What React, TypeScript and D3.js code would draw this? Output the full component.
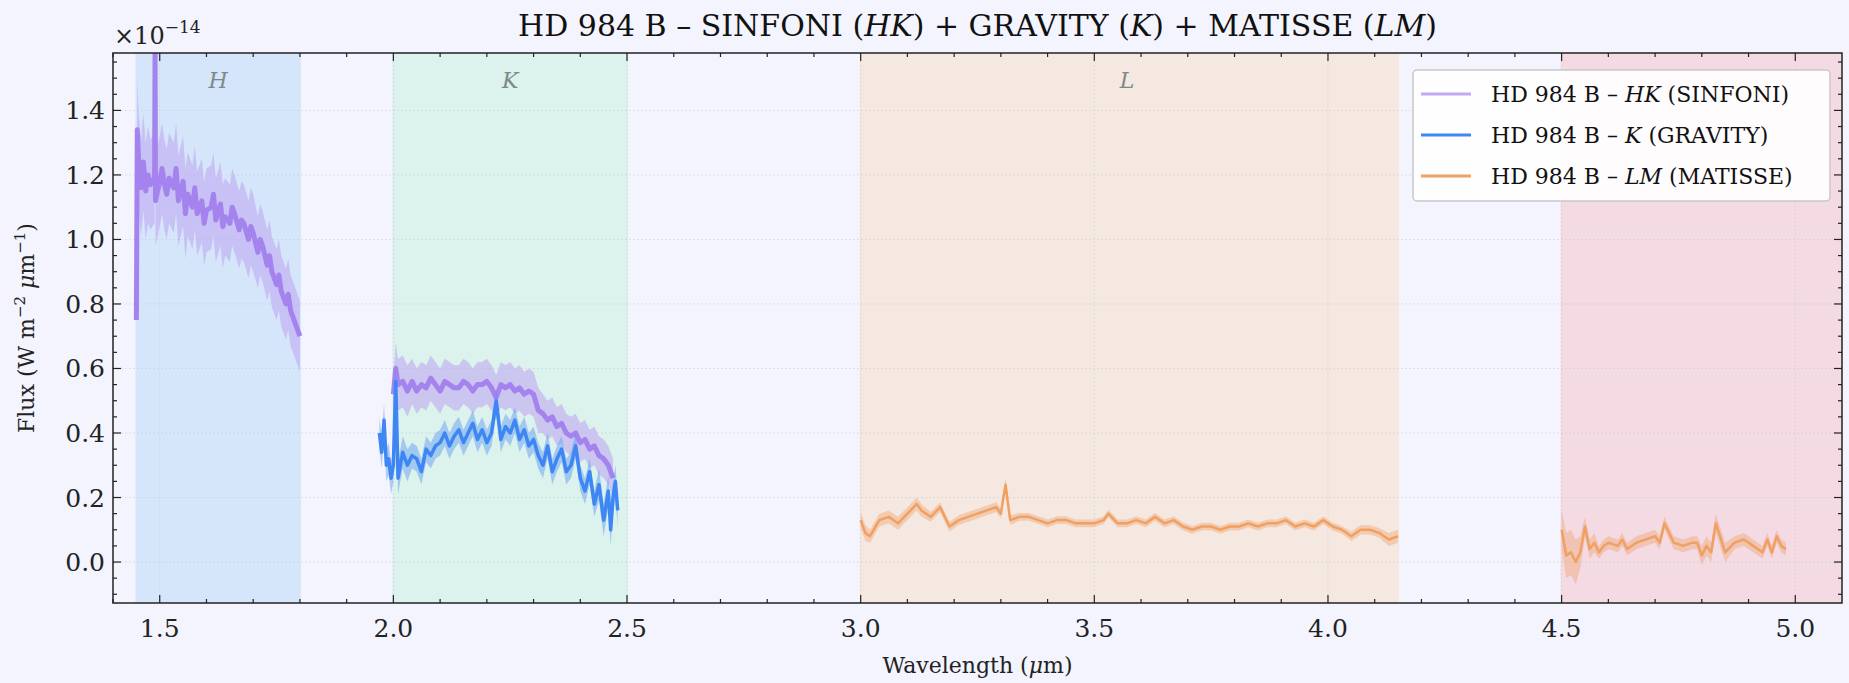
import { useEffect, useRef } from "react";
import * as d3 from "d3";

// SINFONI HK (H part + K part), flux in 1e-14 W m^-2 um^-1
const sinfoniWaveH = [1.45, 1.452, 1.455, 1.46, 1.465, 1.47, 1.475, 1.48, 1.489, 1.49, 1.491, 1.50, 1.505, 1.51, 1.515, 1.52, 1.53, 1.535, 1.54, 1.55, 1.555, 1.56, 1.57, 1.575, 1.58, 1.59, 1.595, 1.60, 1.61, 1.615, 1.62, 1.63, 1.635, 1.64, 1.65, 1.655, 1.66, 1.67, 1.675, 1.68, 1.69, 1.695, 1.70, 1.71, 1.715, 1.72, 1.73, 1.735, 1.74, 1.75, 1.755, 1.76, 1.77, 1.775, 1.78, 1.79, 1.80];
const sinfoniFluxH = [0.75, 1.34, 1.24, 1.16, 1.24, 1.15, 1.20, 1.17, 1.19, 1.58, 1.12, 1.18, 1.22, 1.17, 1.14, 1.19, 1.16, 1.22, 1.12, 1.18, 1.08, 1.14, 1.10, 1.16, 1.08, 1.12, 1.05, 1.09, 1.10, 1.14, 1.06, 1.11, 1.04, 1.07, 1.05, 1.10, 1.08, 1.03, 1.06, 1.05, 1.00, 1.04, 1.02, 0.96, 1.00, 0.98, 0.92, 0.95, 0.90, 0.86, 0.89, 0.84, 0.80, 0.83, 0.78, 0.74, 0.70];
const sinfoniErrH = [0.02, 0.16, 0.15, 0.15, 0.15, 0.15, 0.15, 0.14, 0.14, 0.02, 0.14, 0.14, 0.14, 0.14, 0.14, 0.14, 0.14, 0.14, 0.14, 0.14, 0.14, 0.13, 0.13, 0.13, 0.13, 0.13, 0.13, 0.13, 0.13, 0.13, 0.13, 0.13, 0.13, 0.12, 0.12, 0.12, 0.12, 0.12, 0.12, 0.12, 0.12, 0.12, 0.12, 0.11, 0.11, 0.11, 0.11, 0.11, 0.11, 0.11, 0.11, 0.11, 0.11, 0.11, 0.11, 0.11, 0.11];
const sinfoniWaveK = [2.00, 2.005, 2.01, 2.02, 2.03, 2.04, 2.05, 2.06, 2.07, 2.08, 2.09, 2.10, 2.11, 2.12, 2.13, 2.14, 2.15, 2.16, 2.17, 2.18, 2.19, 2.20, 2.21, 2.22, 2.23, 2.24, 2.25, 2.26, 2.27, 2.28, 2.29, 2.30, 2.31, 2.32, 2.33, 2.34, 2.35, 2.36, 2.37, 2.38, 2.39, 2.40, 2.41, 2.42, 2.43, 2.44, 2.45, 2.46, 2.47];
const sinfoniFluxK = [0.52, 0.60, 0.55, 0.56, 0.53, 0.56, 0.53, 0.55, 0.54, 0.57, 0.55, 0.53, 0.56, 0.55, 0.54, 0.54, 0.56, 0.55, 0.53, 0.55, 0.55, 0.56, 0.54, 0.51, 0.55, 0.54, 0.55, 0.53, 0.54, 0.52, 0.53, 0.52, 0.47, 0.46, 0.44, 0.45, 0.42, 0.43, 0.40, 0.39, 0.40, 0.37, 0.38, 0.35, 0.36, 0.33, 0.32, 0.30, 0.26];
const sinfoniErrK = [0.06, 0.08, 0.08, 0.08, 0.08, 0.07, 0.07, 0.07, 0.07, 0.07, 0.07, 0.07, 0.07, 0.07, 0.07, 0.07, 0.07, 0.07, 0.07, 0.07, 0.07, 0.07, 0.07, 0.07, 0.07, 0.07, 0.07, 0.07, 0.07, 0.07, 0.07, 0.07, 0.07, 0.06, 0.06, 0.06, 0.06, 0.06, 0.06, 0.06, 0.06, 0.06, 0.06, 0.06, 0.06, 0.06, 0.06, 0.06, 0.06];

// GRAVITY K
const gravityWave = [1.97, 1.975, 1.98, 1.985, 1.99, 1.995, 2.00, 2.005, 2.01, 2.02, 2.03, 2.04, 2.05, 2.06, 2.07, 2.08, 2.09, 2.10, 2.11, 2.12, 2.13, 2.14, 2.15, 2.16, 2.17, 2.18, 2.19, 2.20, 2.21, 2.22, 2.23, 2.24, 2.25, 2.26, 2.27, 2.28, 2.29, 2.30, 2.31, 2.32, 2.33, 2.34, 2.35, 2.36, 2.37, 2.38, 2.39, 2.40, 2.41, 2.42, 2.43, 2.44, 2.45, 2.46, 2.465, 2.47, 2.475, 2.48];
const gravityFlux = [0.40, 0.34, 0.44, 0.30, 0.32, 0.26, 0.30, 0.56, 0.26, 0.34, 0.30, 0.33, 0.32, 0.28, 0.35, 0.33, 0.36, 0.37, 0.40, 0.36, 0.39, 0.41, 0.37, 0.40, 0.43, 0.38, 0.41, 0.37, 0.40, 0.50, 0.38, 0.42, 0.40, 0.44, 0.38, 0.41, 0.36, 0.38, 0.33, 0.30, 0.36, 0.28, 0.32, 0.35, 0.28, 0.30, 0.36, 0.26, 0.22, 0.28, 0.18, 0.24, 0.13, 0.22, 0.10, 0.20, 0.25, 0.16];
const gravityErr = [0.05, 0.05, 0.05, 0.05, 0.05, 0.05, 0.05, 0.06, 0.05, 0.05, 0.05, 0.04, 0.04, 0.04, 0.04, 0.04, 0.04, 0.04, 0.04, 0.04, 0.04, 0.04, 0.04, 0.04, 0.04, 0.04, 0.04, 0.04, 0.04, 0.04, 0.04, 0.04, 0.04, 0.04, 0.04, 0.04, 0.04, 0.04, 0.04, 0.04, 0.04, 0.04, 0.04, 0.04, 0.04, 0.04, 0.04, 0.04, 0.04, 0.04, 0.04, 0.05, 0.05, 0.05, 0.05, 0.05, 0.05, 0.05];

// MATISSE L and M
const matisseWaveL = [3.00, 3.01, 3.02, 3.04, 3.06, 3.08, 3.10, 3.12, 3.13, 3.15, 3.17, 3.19, 3.21, 3.23, 3.25, 3.27, 3.29, 3.30, 3.31, 3.32, 3.34, 3.36, 3.38, 3.40, 3.42, 3.44, 3.46, 3.48, 3.50, 3.52, 3.53, 3.55, 3.57, 3.59, 3.61, 3.63, 3.65, 3.67, 3.69, 3.71, 3.73, 3.75, 3.77, 3.79, 3.81, 3.83, 3.85, 3.87, 3.89, 3.91, 3.93, 3.95, 3.97, 3.99, 4.01, 4.03, 4.05, 4.07, 4.09, 4.11, 4.13, 4.15];
const matisseFluxL = [0.13, 0.09, 0.08, 0.13, 0.14, 0.12, 0.15, 0.18, 0.16, 0.14, 0.17, 0.11, 0.13, 0.14, 0.15, 0.16, 0.17, 0.15, 0.24, 0.13, 0.14, 0.14, 0.13, 0.12, 0.13, 0.13, 0.12, 0.12, 0.12, 0.13, 0.15, 0.12, 0.12, 0.13, 0.12, 0.14, 0.12, 0.13, 0.11, 0.10, 0.11, 0.11, 0.10, 0.11, 0.11, 0.12, 0.11, 0.12, 0.12, 0.13, 0.11, 0.12, 0.11, 0.13, 0.11, 0.10, 0.08, 0.10, 0.10, 0.09, 0.07, 0.08];
const matisseErrL = [0.025, 0.025, 0.02, 0.02, 0.02, 0.02, 0.02, 0.02, 0.02, 0.015, 0.015, 0.015, 0.015, 0.015, 0.015, 0.015, 0.015, 0.015, 0.02, 0.015, 0.012, 0.012, 0.012, 0.012, 0.012, 0.012, 0.012, 0.012, 0.012, 0.012, 0.012, 0.012, 0.012, 0.012, 0.012, 0.012, 0.012, 0.012, 0.012, 0.012, 0.012, 0.012, 0.012, 0.012, 0.012, 0.012, 0.012, 0.012, 0.012, 0.012, 0.012, 0.012, 0.012, 0.012, 0.012, 0.012, 0.015, 0.015, 0.015, 0.015, 0.02, 0.02];
const matisseWaveM = [4.50, 4.51, 4.52, 4.53, 4.54, 4.55, 4.56, 4.57, 4.58, 4.59, 4.60, 4.62, 4.63, 4.64, 4.66, 4.68, 4.70, 4.71, 4.72, 4.74, 4.76, 4.78, 4.79, 4.80, 4.81, 4.82, 4.83, 4.85, 4.87, 4.89, 4.91, 4.93, 4.94, 4.95, 4.96, 4.97, 4.98];
const matisseFluxM = [0.10, 0.02, 0.03, 0.00, 0.03, 0.11, 0.04, 0.06, 0.03, 0.05, 0.06, 0.05, 0.07, 0.04, 0.06, 0.07, 0.08, 0.06, 0.12, 0.06, 0.05, 0.06, 0.06, 0.02, 0.05, 0.03, 0.12, 0.03, 0.06, 0.07, 0.05, 0.03, 0.07, 0.03, 0.08, 0.05, 0.04];
const matisseErrM = [0.06, 0.07, 0.07, 0.07, 0.05, 0.03, 0.03, 0.03, 0.02, 0.02, 0.02, 0.02, 0.02, 0.02, 0.02, 0.02, 0.02, 0.02, 0.02, 0.02, 0.02, 0.02, 0.02, 0.03, 0.03, 0.03, 0.03, 0.03, 0.02, 0.02, 0.02, 0.02, 0.02, 0.02, 0.02, 0.02, 0.02];

const bands = [
  { name: "H", from: 1.45, to: 1.8, color: "#d5e6fb", label: 1.625 },
  { name: "K", from: 2.0, to: 2.5, color: "#dbf2ed", label: 2.25 },
  { name: "L", from: 3.0, to: 4.15, color: "#f5e8e0", label: 3.57 },
  { name: "", from: 4.5, to: 5.1, color: "#f4dae3", label: 4.75 },
];
const xTicks = [1.5, 2.0, 2.5, 3.0, 3.5, 4.0, 4.5, 5.0];
const yTicks = [0.0, 0.2, 0.4, 0.6, 0.8, 1.0, 1.2, 1.4];

const App = () => {
  const ref = useRef(null);

  useEffect(() => {
    const W = 1849, H = 683;
    const m = { left: 113, right: 7, top: 53, bottom: 80 };
    const svg = d3.select(ref.current);
    svg.selectAll("*").remove();
    svg.append("rect").attr("width", W).attr("height", H).attr("fill", "#f3f4fd");

    const x = d3.scaleLinear().domain([1.4, 5.1]).range([m.left, W - m.right]);
    const y = d3.scaleLinear().domain([-0.127, 1.578]).range([H - m.bottom, m.top]);
    const font = "DejaVu Serif, serif";

    const defs = svg.append("defs");
    defs.append("clipPath").attr("id", "clip").append("rect")
      .attr("x", m.left).attr("y", m.top).attr("width", W - m.left - m.right).attr("height", H - m.top - m.bottom);
    const plot = svg.append("g").attr("clip-path", "url(#clip)");

    bands.forEach((b) => {
      plot.append("rect").attr("x", x(b.from)).attr("y", m.top)
        .attr("width", x(b.to) - x(b.from)).attr("height", H - m.top - m.bottom)
        .attr("fill", b.color).attr("stroke", b.color).attr("stroke-width", 2);
      if (b.name) plot.append("text").attr("x", x(b.label)).attr("y", 88).attr("text-anchor", "middle")
        .attr("font-family", font).attr("font-style", "italic").attr("font-size", 22)
        .attr("fill", "#7b8a8a").text(b.name);
    });

    // grid
    xTicks.forEach((t) => plot.append("line").attr("x1", x(t)).attr("x2", x(t)).attr("y1", m.top).attr("y2", H - m.bottom)
      .attr("stroke", "#c8c8d0").attr("stroke-width", 0.8).attr("stroke-dasharray", "2,2").attr("opacity", 0.6));
    yTicks.forEach((t) => plot.append("line").attr("x1", m.left).attr("x2", W - m.right).attr("y1", y(t)).attr("y2", y(t))
      .attr("stroke", "#c8c8d0").attr("stroke-width", 0.8).attr("stroke-dasharray", "2,2").attr("opacity", 0.6));

    const drawSeries = (wave, flux, err, line, fill, fillOp, lw) => {
      const pts = wave.map((w, i) => ({ w, f: flux[i], e: err[i] }));
      plot.append("path").datum(pts)
        .attr("d", d3.area<any>().x((d) => x(d.w)).y0((d) => y(d.f - d.e)).y1((d) => y(d.f + d.e)))
        .attr("fill", fill).attr("opacity", fillOp);
      plot.append("path").datum(pts)
        .attr("d", d3.line<any>().x((d) => x(d.w)).y((d) => y(d.f)))
        .attr("fill", "none").attr("stroke", line).attr("stroke-width", lw).attr("stroke-linejoin", "round");
    };
    drawSeries(sinfoniWaveH, sinfoniFluxH, sinfoniErrH, "#a583ee", "#bda2f0", 0.55, 5);
    drawSeries(sinfoniWaveK, sinfoniFluxK, sinfoniErrK, "#a583ee", "#bda2f0", 0.55, 5);
    drawSeries(gravityWave, gravityFlux, gravityErr, "#3f86f5", "#5b97f2", 0.45, 3.5);
    drawSeries(matisseWaveL, matisseFluxL, matisseErrL, "#f0a062", "#eea06a", 0.4, 2.5);
    drawSeries(matisseWaveM, matisseFluxM, matisseErrM, "#f0a062", "#eea06a", 0.4, 2.5);

    // frame and ticks
    svg.append("rect").attr("x", m.left).attr("y", m.top).attr("width", W - m.left - m.right)
      .attr("height", H - m.top - m.bottom).attr("fill", "none").attr("stroke", "#222").attr("stroke-width", 1.5);
    const bottomY = H - m.bottom, rightX = W - m.right;
    d3.range(15, 51).map((v) => v / 10).concat([1.4]).forEach((t) => {
      const major = xTicks.some((k) => Math.abs(k - t) < 1e-6);
      const len = major ? 8 : 4;
      if (x(t) < m.left || x(t) > rightX) return;
      svg.append("line").attr("x1", x(t)).attr("x2", x(t)).attr("y1", bottomY).attr("y2", bottomY - len).attr("stroke", "#222").attr("stroke-width", 1.2);
      svg.append("line").attr("x1", x(t)).attr("x2", x(t)).attr("y1", m.top).attr("y2", m.top + len).attr("stroke", "#222").attr("stroke-width", 1.2);
    });
    d3.range(-2, 32).map((v) => v * 0.05).forEach((t) => {
      const major = yTicks.some((k) => Math.abs(k - t) < 1e-6);
      const len = major ? 8 : 4;
      if (y(t) > bottomY || y(t) < m.top) return;
      svg.append("line").attr("x1", m.left).attr("x2", m.left + len).attr("y1", y(t)).attr("y2", y(t)).attr("stroke", "#222").attr("stroke-width", 1.2);
      svg.append("line").attr("x1", rightX).attr("x2", rightX - len).attr("y1", y(t)).attr("y2", y(t)).attr("stroke", "#222").attr("stroke-width", 1.2);
    });
    xTicks.forEach((t) => svg.append("text").attr("x", x(t)).attr("y", bottomY + 34).attr("text-anchor", "middle")
      .attr("font-family", font).attr("font-size", 25).attr("fill", "#222").text(t.toFixed(1)));
    yTicks.forEach((t) => svg.append("text").attr("x", m.left - 8).attr("y", y(t) + 9).attr("text-anchor", "end")
      .attr("font-family", font).attr("font-size", 25).attr("fill", "#222").text(t.toFixed(1)));

    const exp = svg.append("text").attr("x", m.left + 1).attr("y", 44).attr("font-family", font).attr("font-size", 24).attr("fill", "#222");
    exp.append("tspan").text("×10");
    exp.append("tspan").attr("dy", -11).attr("font-size", 17).text("−14");

    const title = svg.append("text").attr("x", (m.left + rightX) / 2).attr("y", 36).attr("text-anchor", "middle")
      .attr("font-family", font).attr("font-size", 30).attr("fill", "#111");
    [["HD 984 B – SINFONI (", 0], ["HK", 1], [") + GRAVITY (", 0], ["K", 1], [") + MATISSE (", 0], ["LM", 1], [")", 0]]
      .forEach(([s, it]) => title.append("tspan").attr("font-style", it ? "italic" : "normal").text(s as string));

    const xl = svg.append("text").attr("x", (m.left + rightX) / 2).attr("y", 673).attr("text-anchor", "middle")
      .attr("font-family", font).attr("font-size", 22).attr("fill", "#222");
    xl.append("tspan").text("Wavelength (");
    xl.append("tspan").attr("font-style", "italic").text("μ");
    xl.append("tspan").text("m)");

    const yl = svg.append("text").attr("transform", `translate(34,${(m.top + bottomY) / 2}) rotate(-90)`).attr("text-anchor", "middle")
      .attr("font-family", font).attr("font-size", 22).attr("fill", "#222");
    yl.append("tspan").text("Flux (W m");
    yl.append("tspan").attr("dy", -9).attr("font-size", 15).text("−2");
    yl.append("tspan").attr("dy", 9).text(" ");
    yl.append("tspan").attr("font-style", "italic").text("μ");
    yl.append("tspan").text("m");
    yl.append("tspan").attr("dy", -9).attr("font-size", 15).text("−1");
    yl.append("tspan").attr("dy", 9).text(")");

    // legend
    const lg = svg.append("g");
    lg.append("rect").attr("x", 1413).attr("y", 70).attr("width", 417).attr("height", 131).attr("rx", 4)
      .attr("fill", "#ffffff").attr("fill-opacity", 0.9).attr("stroke", "#c8c8cc").attr("stroke-width", 1.5);
    const items = [
      { c: "#c3a8f2", parts: [["HD 984 B – ", 0], ["HK", 1], [" (SINFONI)", 0]] },
      { c: "#3f86f5", parts: [["HD 984 B – ", 0], ["K", 1], [" (GRAVITY)", 0]] },
      { c: "#f0a062", parts: [["HD 984 B – ", 0], ["LM", 1], [" (MATISSE)", 0]] },
    ];
    items.forEach((it, i) => {
      const cy = 94 + i * 41;
      lg.append("line").attr("x1", 1421).attr("x2", 1471).attr("y1", cy).attr("y2", cy).attr("stroke", it.c).attr("stroke-width", 3);
      const t = lg.append("text").attr("x", 1491).attr("y", cy + 8).attr("font-family", font).attr("font-size", 22).attr("fill", "#111");
      it.parts.forEach(([s, ital]) => t.append("tspan").attr("font-style", ital ? "italic" : "normal").text(s as string));
    });
  }, []);

  return (
    <svg ref={ref} width={1849} height={683} style={{ position: "absolute", left: 0, top: 0 }}></svg>
  );
};

export default App;
